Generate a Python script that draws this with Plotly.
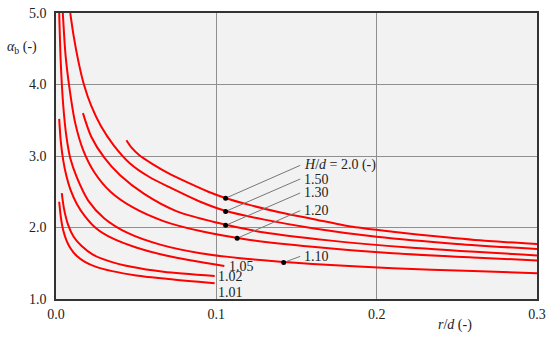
import plotly.graph_objects as go

# ---- data (r/d, alpha_b) ----
r_101 = [0.002, 0.003, 0.0045, 0.0065, 0.009, 0.013, 0.018, 0.025, 0.035, 0.05, 0.07, 0.099]
a_101 = [2.36, 2.15, 1.96, 1.82, 1.71, 1.60, 1.52, 1.45, 1.39, 1.33, 1.28, 1.22]

r_102 = [0.0036, 0.005, 0.0075, 0.011, 0.016, 0.023, 0.033, 0.047, 0.067, 0.099]
a_102 = [2.48, 2.26, 2.04, 1.87, 1.74, 1.62, 1.53, 1.45, 1.38, 1.32]

r_105 = [0.002, 0.003, 0.0045, 0.0065, 0.009, 0.013, 0.018, 0.025, 0.035, 0.05, 0.07, 0.105]
a_105 = [3.52, 3.20, 2.94, 2.72, 2.53, 2.33, 2.16, 1.99, 1.85, 1.72, 1.60, 1.46]

r_110 = [0.002, 0.003, 0.0045, 0.0065, 0.009, 0.013, 0.02, 0.03, 0.045, 0.065, 0.09, 0.12, 0.16, 0.21, 0.26, 0.3]
a_110 = [5.0, 4.29, 3.71, 3.27, 2.96, 2.70, 2.38, 2.13, 1.92, 1.76, 1.64, 1.56, 1.49, 1.43, 1.39, 1.36]

r_120 = [0.00425, 0.006, 0.0084, 0.012, 0.017, 0.024, 0.034, 0.048, 0.067, 0.09, 0.12, 0.16, 0.21, 0.26, 0.3]
a_120 = [5.0, 4.40, 3.95, 3.46, 3.08, 2.77, 2.50, 2.28, 2.09, 1.95, 1.83, 1.73, 1.64, 1.58, 1.54]

r_130 = [0.0168, 0.022, 0.03, 0.04, 0.055, 0.075, 0.1, 0.13, 0.17, 0.22, 0.3]
a_130 = [3.60, 3.27, 2.98, 2.73, 2.47, 2.23, 2.07, 1.93, 1.82, 1.72, 1.61]

r_150 = [0.0089, 0.011, 0.014, 0.0174, 0.022, 0.028, 0.036, 0.046, 0.058, 0.072, 0.09, 0.106, 0.13, 0.16, 0.2, 0.25, 0.3]
a_150 = [5.0, 4.68, 4.32, 4.0, 3.70, 3.42, 3.15, 2.90, 2.71, 2.55, 2.36, 2.23, 2.11, 1.99, 1.87, 1.77, 1.70]

r_200 = [0.0439, 0.047, 0.052, 0.06, 0.07, 0.082, 0.095, 0.106, 0.12, 0.14, 0.16, 0.185, 0.21, 0.24, 0.27, 0.3]
a_200 = [3.22, 3.12, 3.01, 2.89, 2.76, 2.63, 2.50, 2.41, 2.32, 2.21, 2.12, 2.01, 1.94, 1.87, 1.81, 1.77]

curves = [(r_101, a_101), (r_102, a_102), (r_105, a_105), (r_110, a_110),
          (r_120, a_120), (r_130, a_130), (r_150, a_150), (r_200, a_200)]

# pointer dots and labels
dot_r = [0.1058, 0.1058, 0.1058, 0.113, 0.142]
dot_a = [2.41, 2.225, 2.03, 1.85, 1.51]
lab_r = [0.1523, 0.1523, 0.1523, 0.1523, 0.1523]
lab_a = [2.869, 2.678, 2.483, 2.235, 1.596]
lab_text = ["<i>H</i>/<i>d</i> = 2.0 (-)", "1.50", "1.30", "1.20", "1.10"]

end_r = [0.1064, 0.0995, 0.0995]
end_a = [1.456, 1.316, 1.085]
end_text = ["1.05", "1.02", "1.01"]

x_ticks = [0.0, 0.1, 0.2, 0.3]
y_ticks = [1.0, 2.0, 3.0, 4.0, 5.0]

FONT = "Liberation Serif"

fig = go.Figure()

for rr, aa in curves:
    fig.add_trace(go.Scatter(x=rr, y=aa, mode="lines",
                             line=dict(color="#ff0000", width=2, shape="spline", smoothing=0.8),
                             hoverinfo="skip", showlegend=False))

for i in range(len(dot_r)):
    fig.add_trace(go.Scatter(x=[dot_r[i], lab_r[i]], y=[dot_a[i], lab_a[i]], mode="lines",
                             line=dict(color="#777777", width=1),
                             hoverinfo="skip", showlegend=False))
    fig.add_annotation(x=lab_r[i], y=lab_a[i], text=lab_text[i], showarrow=False,
                       xanchor="left", yanchor="middle", xshift=2,
                       font=dict(family=FONT, size=14, color="#222"))

fig.add_trace(go.Scatter(x=dot_r, y=dot_a, mode="markers",
                         marker=dict(color="black", size=5, symbol="circle"),
                         hoverinfo="skip", showlegend=False))

for i in range(len(end_r)):
    fig.add_annotation(x=end_r[i], y=end_a[i], text=end_text[i], showarrow=False,
                       xanchor="left", yanchor="middle",
                       font=dict(family=FONT, size=14, color="#222"))

fig.add_annotation(xref="paper", yref="paper", x=-0.105, y=0.88,
                   text="<i>α</i><sub>b</sub> (-)", showarrow=False,
                   xanchor="left", yanchor="middle",
                   font=dict(family=FONT, size=14, color="#222"))
fig.add_annotation(xref="paper", yref="paper", x=0.83, y=-0.09,
                   text="<i>r</i>/<i>d</i> (-)", showarrow=False,
                   xanchor="center", yanchor="middle",
                   font=dict(family=FONT, size=14, color="#222"))

fig.update_layout(
    width=550, height=340,
    margin=dict(l=56, r=13, t=13, b=41, autoexpand=False),
    paper_bgcolor="white", plot_bgcolor="#f2f2f2",
    font=dict(family=FONT, size=14, color="#222"),
    showlegend=False,
)
fig.update_xaxes(range=[0, 0.3], tickvals=x_ticks, tickformat=".1f", automargin=False,
                 showgrid=True, gridcolor="#8f8f8f", gridwidth=1,
                 showline=True, linecolor="#333333", linewidth=1.5, mirror=True,
                 ticks="outside", ticklen=1, tickcolor="rgba(0,0,0,0)", zeroline=False)
fig.update_yaxes(range=[1, 5], tickvals=y_ticks, tickformat=".1f", automargin=False,
                 showgrid=True, gridcolor="#8f8f8f", gridwidth=1,
                 showline=True, linecolor="#333333", linewidth=1.5, mirror=True,
                 ticks="outside", ticklen=5, tickcolor="rgba(0,0,0,0)", zeroline=False)

fig.write_html("out.html", config={"displayModeBar": False},
               post_script="document.body.style.margin='0';")
